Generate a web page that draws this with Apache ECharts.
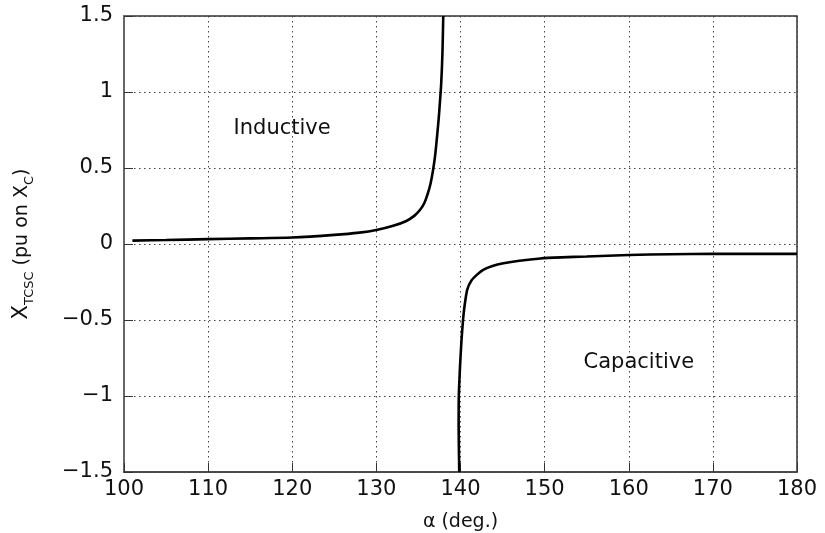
<!DOCTYPE html>
<html>
<head>
<meta charset="utf-8">
<script src="https://cdn.jsdelivr.net/npm/echarts@6/dist/echarts.min.js"></script>
<style>
    html, body { margin: 0; padding: 0; background: #fff; }
    #chart { width: 825px; height: 533px; }
</style>
</head>
<body>
<div id="chart"></div>
<script>
// inductive branch (alpha in deg., X_TCSC in pu on X_C)
var indAlpha = [101, 105, 110, 115, 120, 125, 128, 130, 132, 133.5, 134.5, 135.2, 135.7, 136.1, 136.45, 136.75, 137.0, 137.2, 137.4, 137.55, 137.7, 137.85, 137.95];
var indX = [0.022, 0.026, 0.032, 0.037, 0.043, 0.060, 0.075, 0.092, 0.120, 0.150, 0.185, 0.225, 0.27, 0.33, 0.40, 0.49, 0.59, 0.70, 0.82, 0.93, 1.05, 1.25, 1.5];

// capacitive branch
var capAlpha = [139.85, 139.78, 139.8, 139.95, 140.1, 140.3, 140.5, 140.8, 141.3, 142.0, 142.7, 143.8, 145.1, 147, 149.5, 152, 155, 160, 165, 170, 175, 180];
var capX = [-1.5, -1.2, -1.0, -0.8, -0.65, -0.5, -0.4, -0.3, -0.24, -0.2, -0.17, -0.145, -0.127, -0.11, -0.095, -0.088, -0.082, -0.072, -0.067, -0.065, -0.065, -0.065];

// region labels
var regionNames = ["Inductive", "Capacitive"];
var regionAlpha = [118.8, 161.2];
var regionX = [0.76, -0.78];

var FONT = "DejaVu Sans";
var INK = "#111";

function pairs(xs, ys) {
    var out = [];
    for (var i = 0; i < xs.length; ++i) {
        out.push([xs[i], ys[i]]);
    }
    return out;
}

function fmt(v) {
    var s = String(v);
    return s.replace("-", "\u2212");
}

var regionData = [];
for (var i = 0; i < regionNames.length; ++i) {
    regionData.push({ value: [regionAlpha[i], regionX[i]], name: regionNames[i] });
}

var gridLine = { show: true, lineStyle: { color: "#444", width: 1, type: [1.5, 3.5] } };

var option = {
    animation: false,
    backgroundColor: "#fff",
    grid: {
        left: 124, right: 28, top: 16, bottom: 61,
        outerBoundsMode: "none",
        containLabel: false,
        show: true, borderColor: "#333", borderWidth: 1.5, backgroundColor: "transparent"
    },
    xAxis: {
        type: "value",
        min: 100, max: 180, interval: 10,
        name: "\u03b1 (deg.)",
        nameLocation: "middle",
        nameGap: 41,
        nameTextStyle: { fontFamily: FONT, fontSize: 19, color: INK },
        axisLine: { show: true, onZero: false, lineStyle: { color: "#444", width: 1.5 } },
        axisTick: { show: true, inside: true, length: 9, lineStyle: { color: "#333" } },
        axisLabel: { fontFamily: FONT, fontSize: 21, color: INK, margin: 7 },
        splitLine: gridLine
    },
    yAxis: {
        type: "value",
        min: -1.5, max: 1.5, interval: 0.5,
        name: "{x|X}{s|TCSC}{n| (pu on X}{s|C}{n|)}",
        nameLocation: "middle",
        nameRotate: 90,
        nameGap: 88,
        nameTextStyle: {
            fontFamily: FONT, fontSize: 19, color: INK,
            rich: {
                x: { fontFamily: FONT, fontSize: 21, color: INK, lineHeight: 28 },
                n: { fontFamily: FONT, fontSize: 19, color: INK, lineHeight: 28 },
                s: { fontFamily: FONT, fontSize: 13, color: INK, lineHeight: 28, verticalAlign: "bottom" }
            }
        },
        axisLine: { show: true, onZero: false, lineStyle: { color: "#666", width: 2 } },
        axisTick: { show: true, inside: true, length: 9, lineStyle: { color: "#333" } },
        axisLabel: { fontFamily: FONT, fontSize: 21, color: INK, margin: 11, formatter: fmt },
        splitLine: gridLine
    },
    series: [
        {
            type: "line",
            data: pairs(indAlpha, indX),
            showSymbol: false,
            smooth: 0.3,
            lineStyle: { color: "#000", width: 2.6 }
        },
        {
            type: "line",
            data: pairs(capAlpha, capX),
            showSymbol: false,
            smooth: 0.2,
            lineStyle: { color: "#000", width: 2.6 }
        },
        {
            type: "scatter",
            data: regionData,
            symbolSize: 0,
            itemStyle: { opacity: 1 },
            label: {
                show: true, position: "inside",
                formatter: function (p) { return p.name; },
                fontFamily: FONT, fontSize: 21, color: INK
            }
        }
    ]
};

echarts.init(document.getElementById("chart")).setOption(option);
</script>
</body>
</html>
